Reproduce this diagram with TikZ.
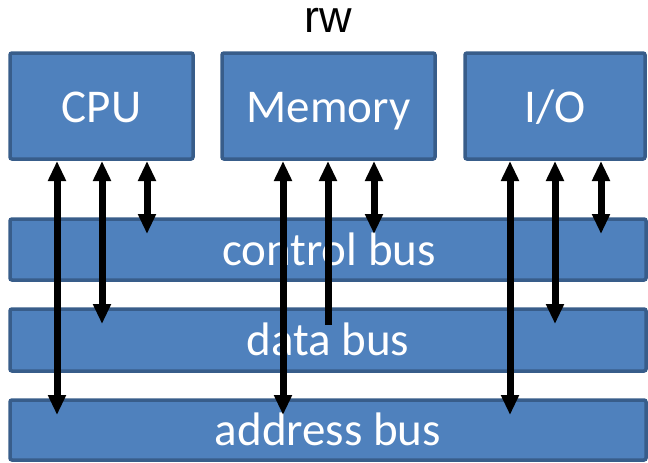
\documentclass[tikz,border=0pt]{standalone}
\usepackage{fontspec}
\setmainfont{Carlito}
\newfontfamily\labelfont{Liberation Sans}
\usetikzlibrary{arrows.meta}
\definecolor{boxfill}{HTML}{4F81BD}
\definecolor{boxline}{HTML}{385D8A}
\begin{document}
\begin{tikzpicture}[x=1pt,y=-1pt,
  unit/.style={draw=boxline,fill=boxfill,line width=3.5pt,rounded corners=2pt},
  boxtext/.style={text=white,font=\fontsize{47}{52}\selectfont,anchor=base,inner sep=0pt},
  link/.style={line width=7pt,black},
  both/.style={link,{Triangle[length=20pt,width=17pt]}-{Triangle[length=20pt,width=17pt]}},
  uponly/.style={link,{Triangle[length=20pt,width=17pt]}-}]
\useasboundingbox (0,0) rectangle (648,463);

% units and buses
\draw[unit] (10,53) rectangle (193,159);
\draw[unit] (222,53) rectangle (435,159);
\draw[unit] (465,53) rectangle (645,159);
\draw[unit] (10,219) rectangle (646,280);
\draw[unit] (10,309) rectangle (646,371);
\draw[unit] (10,400) rectangle (646,460);

\node (cpu) [boxtext] at (101.5,122) {CPU};
\node (mem) [boxtext] at (328.5,122) {Memory};
\node (io)  [boxtext] at (555,122) {I/O};
\node (ctrl) [boxtext] at (329,265) {control bus};
\node (data) [boxtext] at (328,355) {data bus};
\node (addr) [boxtext] at (328,445) {address bus};
\node (rw) [anchor=base,inner sep=0pt,text height=24pt,
  font=\labelfont\fontsize{45}{50}\selectfont] at (328.5,32) {rw};

% attachment points on the unit boxes and buses
\foreach \n/\x in {c1/57,c2/102,c3/147,m1/283,m2/328,m3/374,i1/510,i2/555,i3/601}{
  \coordinate (\n top) at (\x,161);
}
\foreach \n/\x in {c1/57,m1/283,i1/510}{\coordinate (\n end) at (\x,415);}
\foreach \n/\x in {c2/102,i2/555}{\coordinate (\n end) at (\x,324);}
\coordinate (m2end) at (328,325);
\foreach \n/\x in {c3/147,m3/374,i3/601}{\coordinate (\n end) at (\x,234);}

% bus connections
\foreach \n in {c1,c2,c3,m1,m3,i1,i2,i3}{
  \draw[both] (\n top) -- (\n end);
}
\draw[uponly] (m2top) -- (m2end);
\end{tikzpicture}
\end{document}
